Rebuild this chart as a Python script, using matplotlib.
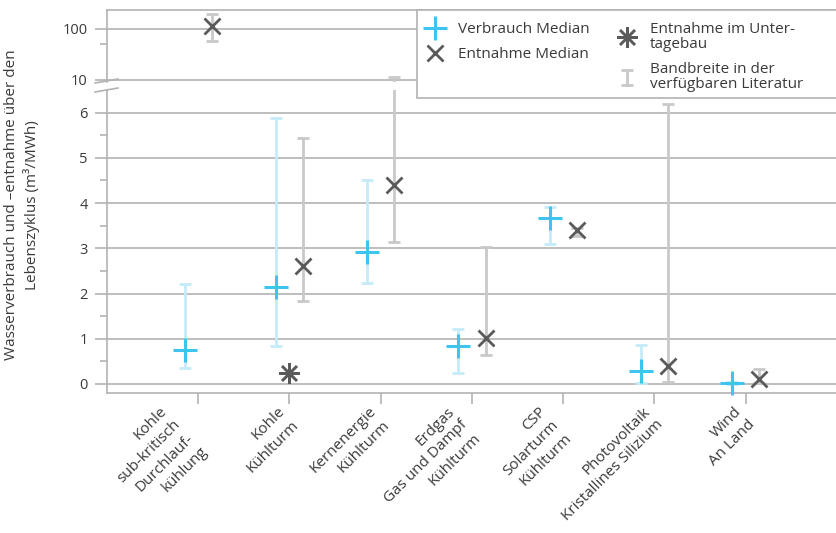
import numpy as np
import matplotlib
matplotlib.use("Agg")
from matplotlib import pyplot as plt
from matplotlib.lines import Line2D
from matplotlib.patches import Rectangle
from matplotlib.transforms import ScaledTranslation
from matplotlib.ticker import FixedLocator, NullFormatter

plt.rcParams['font.family'] = ['Open Sans', 'DejaVu Sans']

# data (m3/MWh)
categories = ["Kohle\nsub-kritisch\nDurchlauf-\nkühlung",
              "Kohle\nKühlturm",
              "Kernenergie\nKühlturm",
              "Erdgas\nGas und Dampf\nKühlturm",
              "CSP\nSolarturm\nKühlturm",
              "Photovoltaik\nKristallines Silizium",
              "Wind\nAn Land"]
verbrauch_median = [0.75, 2.14, 2.91, 0.83, 3.67, 0.29, 0.02]
verbrauch_low = [0.35, 0.83, 2.24, 0.24, 3.10, 0.02, 0.00]
verbrauch_high = [2.21, 5.89, 4.52, 1.22, 3.92, 0.86, 0.04]
entnahme_median = [115, 2.60, 4.40, 1.02, 3.41, 0.39, 0.11]
entnahme_low = [59, 1.83, 3.13, 0.63, 3.27, 0.05, 0.02]
entnahme_high = [197, 5.44, 11.5, 3.02, 3.45, 6.19, 0.32]
untertage_cat = [1]
untertage_val = [0.25]

legend_labels = ["Verbrauch Median", "Entnahme Median",
                 "Entnahme im Unter-\ntagebau", "Bandbreite in der\nverfügbaren Literatur"]
ylabel = "Wasserverbrauch und –entnahme über den\nLebenszyklus (m³/MWh)"

BLUE = '#3dc4ef'
LIGHTBLUE = '#c5ebf9'
DARK = '#5a5a5a'
LIGHTGRAY = '#c9c9c9'
GRID = '#b3b3b3'
TEXT = '#3a3a3a'
OFF = 0.15

W, H = 837, 533
fig = plt.figure(figsize=(W / 100, H / 100), dpi=100)
ax_top = fig.add_axes([107 / W, 1 - 82 / H, 1 - 107 / W, 72 / H])
ax = fig.add_axes([107 / W, 1 - 393 / H, 1 - 107 / W, 303 / H])

x = np.arange(len(categories))
v_med = np.array(verbrauch_median)
e_med = np.array(entnahme_median)
v_err = [v_med - np.array(verbrauch_low), np.array(verbrauch_high) - v_med]
e_err = [e_med - np.array(entnahme_low), np.array(entnahme_high) - e_med]

range_handle = None
for a in (ax_top, ax):
    a.errorbar(x - OFF, v_med, yerr=v_err, fmt='none', ecolor=LIGHTBLUE,
               elinewidth=2, capsize=4.5, capthick=2, zorder=2)
    eb = a.errorbar(x + OFF, e_med, yerr=e_err, fmt='none', ecolor=LIGHTGRAY,
                    elinewidth=2, capsize=4.5, capthick=2, zorder=2)
    if range_handle is None:
        range_handle = eb
    a.plot(x - OFF, v_med, ls='none', marker='+', ms=17, mew=2.2, color=BLUE,
           zorder=4, clip_on=(a is ax_top))
    a.plot(x + OFF, e_med, ls='none', marker='x', ms=12, mew=2, color=DARK, zorder=4)
    a.plot(untertage_cat, untertage_val, ls='none', marker=(8, 2, 0), ms=15, mew=1.8,
           color=DARK, zorder=4)
    a.set_xlim(-1, 7)
    a.grid(axis='y', which='major', color=GRID, lw=1.2)
    a.set_axisbelow(True)
    for s in a.spines.values():
        s.set_color(GRID)
        s.set_linewidth(1.2)
    a.spines['right'].set_visible(False)
    a.tick_params(axis='y', which='major', length=9, width=1.2, color=GRID,
                  labelsize=10.5, labelcolor=TEXT, pad=5)
    a.tick_params(axis='y', which='minor', length=5, width=1.2, color=GRID,
                  right=True, left=True)

# upper panel, log scale
ax_top.set_yscale('log')
ax_top.set_ylim(9.1, 235)
ax_top.yaxis.set_major_locator(FixedLocator([10, 100]))
ax_top.set_yticklabels(['10', '100'])
ax_top.yaxis.set_minor_locator(FixedLocator([50]))
ax_top.yaxis.set_minor_formatter(NullFormatter())
ax_top.spines['bottom'].set_visible(False)
ax_top.set_xticks([])

# lower panel, linear
ax.set_ylim(-0.2, 6.5)
ax.set_yticks(range(7))
ax.yaxis.set_minor_locator(FixedLocator(np.arange(0.5, 6, 1.0)))
ax.spines['top'].set_visible(False)
ax.set_xticks(x)
ax.set_xticklabels([])
ax.tick_params(axis='x', length=8, width=1.2, color=GRID)

# category labels, rotated block hanging right of each tick
lab_tr = ax.get_xaxis_transform() + ScaledTranslation(12 / 100, -11 / 100, fig.dpi_scale_trans)
for xi, lab in zip(x, categories):
    ax.text(xi, 0, lab, transform=lab_tr, rotation=45, ha='right', va='top',
            multialignment='right', fontsize=11, color=TEXT, linespacing=1.35)

# axis break marks
for y0 in (81, 90):
    fig.add_artist(Line2D([95 / W, 118 / W], [1 - (y0 + 2) / H, 1 - (y0 - 2) / H],
                          color=GRID, lw=1.2, transform=fig.transFigure))
    fig.add_artist(Line2D([825 / W, 837 / W], [1 - (y0 + 2) / H, 1 - (y0 - 1) / H],
                          color=GRID, lw=1.2, transform=fig.transFigure))

fig.text(22 / W, 1 - 205 / H, ylabel, rotation=90, ha='center', va='center',
         multialignment='center', fontsize=11, color=TEXT, linespacing=1.25)

# legend: white box to the right edge, two frameless columns
fig.add_artist(Rectangle((417 / W, 1 - 98 / H), 430 / W, 88 / H, transform=fig.transFigure,
                         facecolor='white', edgecolor=GRID, lw=1.2, zorder=4))
handles = [Line2D([], [], ls='none', marker='+', ms=17, mew=2.2, color=BLUE),
           Line2D([], [], ls='none', marker='x', ms=12, mew=2, color=DARK),
           Line2D([], [], ls='none', marker=(8, 2, 0), ms=15, mew=1.8, color=DARK),
           range_handle]
leg_kw = dict(loc='upper left', bbox_transform=fig.transFigure, frameon=False,
              borderaxespad=0, fontsize=11, labelcolor=TEXT, handlelength=1.6,
              handletextpad=0.7, labelspacing=0.65, borderpad=0.4)
leg1 = fig.legend(handles[:2], legend_labels[:2], bbox_to_anchor=(417 / W, 1 - 16 / H), **leg_kw)
leg2 = fig.legend(handles[2:], legend_labels[2:], bbox_to_anchor=(609 / W, 1 - 16 / H), **leg_kw)
for lg in (leg1, leg2):
    lg.set_zorder(5)
    for t in lg.get_texts():
        t.set_linespacing(1.0)

fig.savefig('out.png', dpi=100)
